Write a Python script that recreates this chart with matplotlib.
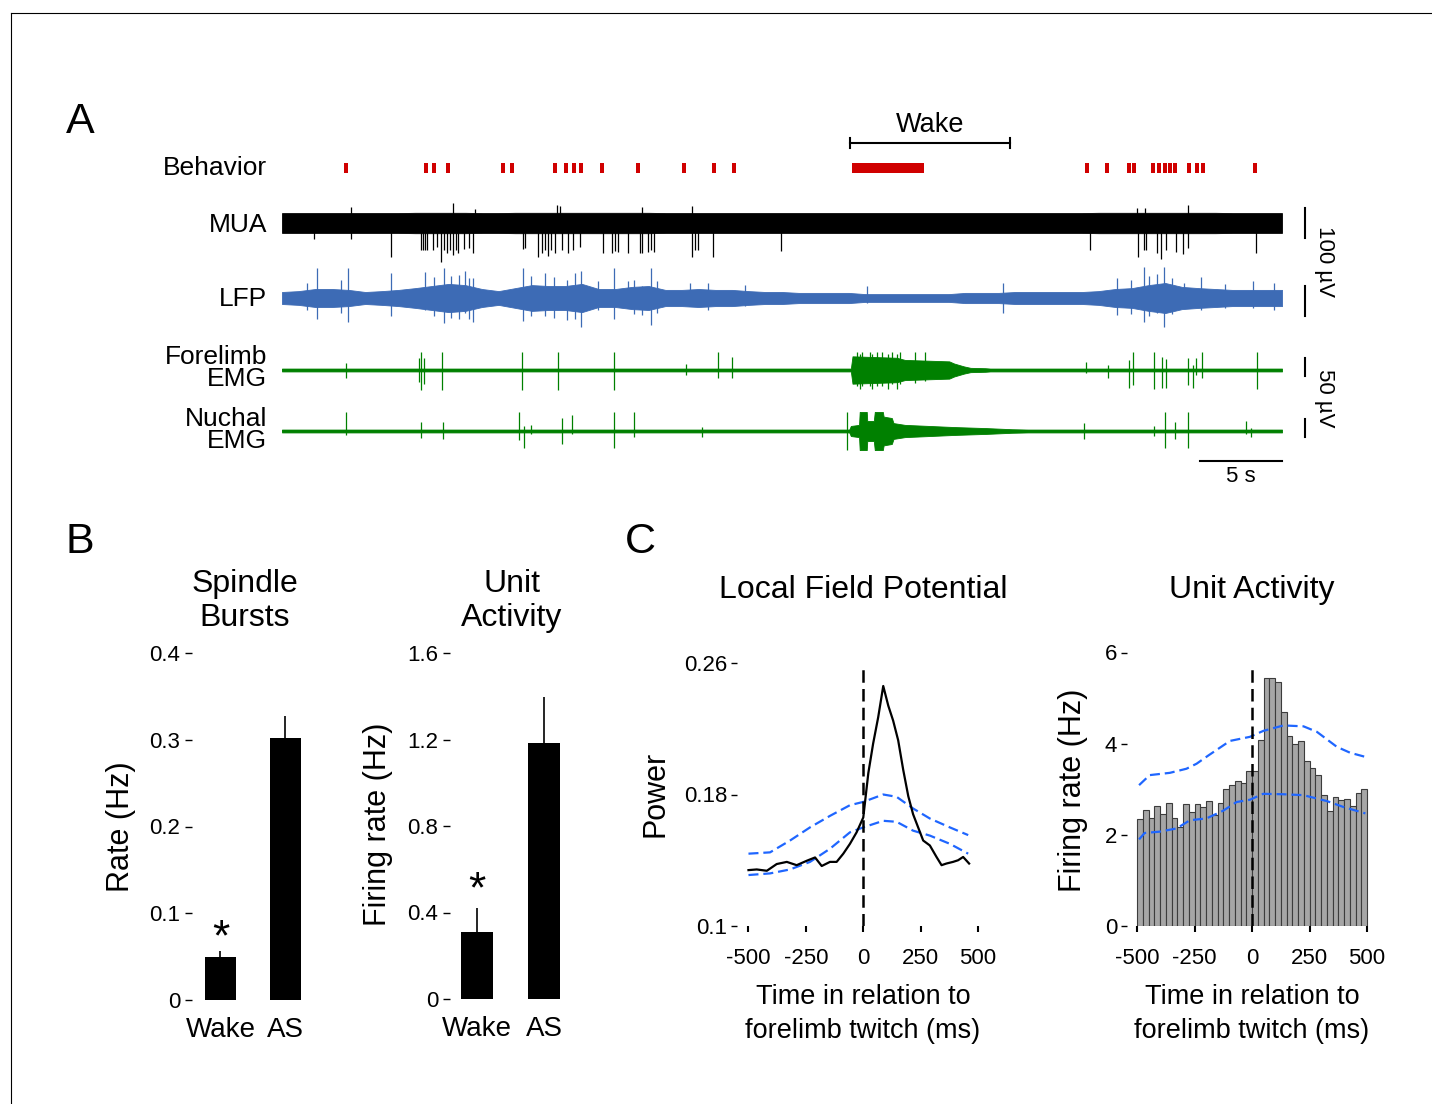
import numpy as np
import matplotlib.pyplot as plt
from matplotlib.lines import Line2D

plt.rcParams['font.family'] = ['Liberation Sans', 'DejaVu Sans']
plt.rcParams['axes.unicode_minus'] = False

## data
#==================================================================
# A: behaviour (s)
twitch_t = [3.90, 8.78, 9.27, 10.12, 13.48, 14.02, 16.65, 17.32, 17.80, 18.23, 19.51,
            21.71, 24.51, 26.34, 27.56, 49.09, 50.30, 51.65, 51.95, 53.11, 53.48,
            53.84, 54.15, 54.45, 55.30, 55.79, 56.16, 59.33]
wake_move = (34.76, 39.15)
wake_state = (34.63, 44.39)
trace_dur = 61.0

# MUA: band half-width per second (uV), spikes (s, uV)
mua_env = [33]*8 + [34]*4 + [33]*2 + [34]*5 + [34]*4 + [33]*26 + [34]*8 + [33]*4
mua_down_t = [1.95, 4.21, 6.65, 8.48, 8.60, 8.72, 8.84, 9.21, 9.45, 9.70, 9.88, 10.06, 10.24,
              10.43, 10.61, 10.73, 11.10, 11.40, 11.65, 14.70, 14.82, 15.61, 15.85, 16.04,
              16.22, 16.40, 16.65, 17.07, 17.44, 17.74, 18.17, 19.57, 20.12, 20.30, 20.49,
              21.10, 21.83, 21.95, 22.32, 22.50, 22.68, 25.00, 25.18, 25.37, 26.28, 30.43,
              49.27, 52.20, 52.56, 52.68, 53.35, 53.60, 53.90, 54.51, 54.94, 55.24, 59.39]
mua_down = [53, 53, 113, 90, 90, 90, 90, 90, 80, 130, 90, 100, 90,
            107, 90, 100, 87, 83, 100, 87, 83, 113, 100, 90,
            110, 90, 100, 90, 100, 90, 80, 100, 100, 93, 97,
            100, 100, 100, 97, 90, 97, 113, 90, 90, 113, 93,
            90, 113, 90, 90, 100, 120, 90, 97, 103, 83, 100]
mua_up_t = [4.21, 10.43, 11.77, 16.77, 16.95, 21.95, 25.00, 52.13, 52.62, 55.24]
mua_up = [53, 67, 47, 60, 57, 53, 57, 50, 50, 60]

# LFP
lfp_env = [20, 23, 30, 30, 27, 20, 23, 27, 33, 40, 47, 43, 30, 23, 33, 43, 40, 40, 47, 30,
           30, 37, 40, 27, 27, 30, 27, 27, 23, 20, 20, 17, 17, 17, 17, 13, 13, 13, 13, 13,
           13, 17, 17, 17, 20, 20, 20, 20, 20, 23, 30, 33, 43, 50, 37, 33, 30, 27, 27, 27, 27]
lfp_spk_t = [1.5, 2.13, 3.6, 4.02, 6.65, 8.72, 9.3, 9.88, 10.3, 10.8, 11.16, 11.4, 11.65,
             14.70, 15.2, 16.04, 16.6, 17.4, 17.9, 18.23, 19.27, 20.24, 21.10, 21.5, 21.95,
             22.50, 22.9, 24.88, 26.0, 28.23, 35.67, 43.96, 50.91, 51.8, 52.56, 52.9, 53.35,
             53.78, 54.3, 55.0, 56.04, 57.5, 59.21, 60.5]
lfp_spk_up = [50, 100, 60, 100, 83, 87, 70, 100, 73, 77, 90, 67, 67,
              100, 73, 83, 70, 60, 83, 90, 57, 100, 57, 60, 40,
              100, 57, 50, 50, 43, 40, 50, 67, 60, 103, 73, 80,
              103, 67, 50, 70, 47, 57, 50]
lfp_spk_dn = [40, 70, 50, 80, 60, 40, 60, 83, 67, 70, 50, 70, 80,
              77, 60, 60, 67, 73, 70, 97, 40, 70, 33, 53, 57,
              90, 50, 27, 40, 27, 17, 50, 57, 53, 80, 60, 50,
              97, 53, 33, 40, 33, 33, 40]

# forelimb EMG: envelope breakpoints (s, uV)
fl_env_t = [0, 34.7, 34.8, 37.5, 38.0, 40.7, 41.0, 41.6, 42.0, 42.9, 43.2, 61]
fl_env = [4, 4, 38, 34, 28, 24, 18, 10, 6, 5, 4, 4]
fl_spk_t = [3.90, 8.35, 8.48, 8.65, 9.76, 14.63, 16.83, 20.24, 24.63, 26.59, 27.44,
            35.06, 35.24, 35.37, 35.85, 35.98, 36.28, 36.59, 36.95, 37.20, 37.50, 37.68,
            38.60, 39.20, 49.02, 50.37, 51.65, 51.89, 53.17, 53.66,
            53.90, 55.24, 55.55, 55.73, 56.10, 59.45]
fl_spk_up = [19, 33, 50, 33, 50, 50, 50, 50, 17, 50, 36,
             50, 45, 50, 50, 45, 50, 50, 45, 50, 45, 50,
             50, 50, 22, 14, 28, 50, 50, 36,
             30, 33, 14, 33, 50, 50]
fl_spk_dn = [22, 33, 56, 40, 56, 56, 56, 56, 14, 22, 22,
             45, 53, 45, 45, 53, 45, 45, 53, 40, 53, 40,
             36, 30, 8, 22, 50, 42, 53, 50,
             50, 42, 50, 14, 22, 53]

# nuchal EMG
nu_env_t = [0, 34.6, 34.7, 35.2, 35.24, 35.67, 35.7, 36.1, 36.16, 36.65, 36.7, 37.2, 37.3,
            38.0, 39.5, 41.0, 43.0, 44.5, 45.5, 61]
nu_env = [4, 4, 14, 17, 53, 53, 28, 28, 53, 53, 40, 36, 22, 17, 14, 11, 8, 5, 4, 4]
nu_spk_t = [3.90, 8.48, 9.82, 14.45, 14.76, 15.18, 17.07, 17.68, 20.24, 21.46, 25.61,
            34.45, 48.90, 53.17, 53.84, 54.45, 55.24, 58.78, 59.09]
nu_spk_up = [53, 25, 25, 53, 14, 17, 36, 44, 53, 53, 11, 53, 22, 14, 53, 25, 53, 28, 8]
nu_spk_dn = [11, 19, 22, 25, 47, 8, 36, 8, 47, 17, 17, 53, 22, 14, 47, 22, 47, 8, 17]

# B
states = ['Wake', 'AS']
spindle_rate = [0.050, 0.302]
spindle_sem = [0.0065, 0.025]
unit_rate = [0.31, 1.184]
unit_sem = [0.11, 0.213]

# C: LFP power
lfp_t = [-500, -464, -420, -377, -333, -290, -246, -210, -181, -145, -116, -87, -58, -29, 0,
         22, 43, 65, 87, 109, 130, 152, 174, 196, 217, 239, 261, 290, 319, 341, 362, 391,
         413, 435, 461]
lfp_power = [.134, .1344, .1336, .1377, .139, .137, .1397, .1417, .1365, .139, .139, .144,
             .150, .157, .166, .193, .211, .227, .246, .234, .225, .213, .195, .179, .168,
             .160, .152, .149, .142, .137, .138, .139, .140, .142, .138]
lfp_ci_t = [-500, -406, -319, -232, -145, -58, 0, 87, 145, 217, 290, 377, 457]
lfp_ci_hi = [.144, .1448, .152, .160, .167, .1735, .1755, .180, .1786, .1715, .1654, .160, .1553]
lfp_ci_lo = [.131, .132, .1344, .139, .147, .157, .160, .164, .1634, .158, .155, .150, .144]

# C: unit activity histogram (25 ms bins)
psth = [2.34, 2.54, 2.38, 2.64, 2.46, 2.69, 2.37, 2.18, 2.67, 2.49, 2.67, 2.62, 2.74, 2.44,
        2.69, 3.01, 3.09, 3.19, 3.14, 3.41, 3.39, 4.07, 5.45, 5.45, 5.35, 4.69, 4.17, 4.00,
        4.06, 3.61, 3.47, 3.31, 2.88, 2.53, 2.82, 2.77, 2.79, 2.64, 2.92, 3.01]
psth_ci_t = [-491, -445, -357, -285, -241, -190, -96, -9, 49, 137, 224, 282, 369, 427, 493]
psth_ci_hi = [3.09, 3.31, 3.36, 3.45, 3.56, 3.74, 4.06, 4.15, 4.28, 4.40, 4.38, 4.26, 3.93, 3.80, 3.71]
psth_ci_t2 = [-491, -467, -401, -328, -270, -198, -125, -67, -9, 49, 137, 224, 326, 398, 493]
psth_ci_lo = [1.90, 2.04, 2.07, 2.14, 2.32, 2.36, 2.53, 2.72, 2.77, 2.90, 2.89, 2.87, 2.74, 2.61, 2.47]

## styling
#==================================================================
RED = '#d00000'
BLUE_LFP = '#3d6bb5'
GREEN = '#008000'
CI_BLUE = '#1f66ff'

W, H = 1432, 1104
fig = plt.figure(figsize=(W/100, H/100), dpi=100)


def box(l, t, r, b):
    return [l/W, 1 - b/H, (r - l)/W, (b - t)/H]


fig.add_artist(Line2D([11/W, 1], [1 - 13/H, 1 - 13/H], color='k', lw=0.8))
fig.add_artist(Line2D([11/W, 11/W], [0, 1 - 13/H], color='k', lw=0.8))

for lab, (px, py) in zip('ABC', [(80, 122), (80, 542), (640, 542)]):
    fig.text(px/W, 1 - py/H, lab, fontsize=31, ha='center', va='center')

## A traces (y in pixels, inverted)
#==================================================================
axA = fig.add_axes(box(282, 100, 1282, 490))
axA.set_xlim(0, trace_dur)
axA.set_ylim(490, 100)
axA.axis('off')

g_ctx = 0.30   # px per uV (MUA/LFP)
g_emg = 0.36   # px per uV (EMG)
beh_y, mua_y, lfp_y, fl_y, nu_y = 168, 223, 298, 370, 431

axA.bar(twitch_t, 10, bottom=beh_y - 5, width=0.25, color=RED, lw=0)
axA.bar((wake_move[0] + wake_move[1])/2, 10, bottom=beh_y - 5,
        width=wake_move[1] - wake_move[0], color=RED, lw=0)
axA.plot(wake_state, [143, 143], color='k', lw=1.5)
for xw in wake_state:
    axA.plot([xw, xw], [138, 148], color='k', lw=1.5)
axA.text(sum(wake_state)/2, 125, 'Wake', fontsize=19.5, ha='center', va='center')


def draw_trace(te, env, center, gain, color, up_t, up, dn_t, dn, base_lw=0):
    e = np.array(env) * gain
    axA.fill_between(te, center - e, center + e, color=color, lw=0.6, edgecolor=color)
    if base_lw:
        axA.plot([0, trace_dur], [center, center], color=color, lw=base_lw)
    axA.vlines(up_t, center, center - np.array(up) * gain, color=color, lw=0.9)
    axA.vlines(dn_t, center, center + np.array(dn) * gain, color=color, lw=0.9)


sec_t = np.linspace(0, trace_dur, len(mua_env))
draw_trace(sec_t, mua_env, mua_y, g_ctx, 'k', mua_up_t, mua_up, mua_down_t, mua_down)
draw_trace(sec_t, lfp_env, lfp_y, g_ctx, BLUE_LFP, lfp_spk_t, lfp_spk_up, lfp_spk_t, lfp_spk_dn)
draw_trace(fl_env_t, fl_env, fl_y, g_emg, GREEN, fl_spk_t, fl_spk_up, fl_spk_t, fl_spk_dn, base_lw=1.2)
draw_trace(nu_env_t, nu_env, nu_y, g_emg, GREEN, nu_spk_t, nu_spk_up, nu_spk_t, nu_spk_dn, base_lw=1.2)

lab_x = -0.9
axA.text(lab_x, beh_y, 'Behavior', fontsize=19, ha='right', va='center')
axA.text(lab_x, mua_y + 2, 'MUA', fontsize=19, ha='right', va='center')
axA.text(lab_x, lfp_y + 1, 'LFP', fontsize=19, ha='right', va='center')
axA.text(lab_x, fl_y - 2, 'Forelimb\nEMG', fontsize=19, ha='right', va='center', linespacing=0.9)
axA.text(lab_x, nu_y - 1, 'Nuchal\nEMG', fontsize=19, ha='right', va='center', linespacing=0.9)

# scale bars
sb_x = 62.4
for c in (222.5, 301):
    axA.plot([sb_x, sb_x], [c - 50*g_ctx, c + 50*g_ctx], color='k', lw=1.5, clip_on=False)
for c in (367, 428):
    axA.plot([sb_x, sb_x], [c - 25*g_emg, c + 25*g_emg], color='k', lw=1.5, clip_on=False)
axA.text(63.6, 262, '100 µV', fontsize=16, rotation=-90, ha='center', va='center')
axA.text(63.6, 398, '50 µV', fontsize=16, rotation=-90, ha='center', va='center')
axA.plot([trace_dur - 5, trace_dur], [461, 461], color='k', lw=1.5, clip_on=False)
axA.text(trace_dur - 2.5, 466, '5 s', fontsize=16, ha='center', va='top')

## B bars
#==================================================================


def bar_panel(rect, vals, sems, ymax, yticks, ylabs, xl, star_y, title, title_x, ylabel, ylabel_xy):
    ax = fig.add_axes(box(*rect))
    ax.bar([0, 1], vals, width=0.477, color='k')
    ax.vlines([0, 1], vals, np.array(vals) + np.array(sems), color='k', lw=1.2)
    ax.set_xlim(*xl)
    ax.set_ylim(0, ymax)
    for s in ax.spines.values():
        s.set_visible(False)
    ax.set_yticks(yticks)
    ax.set_yticklabels(ylabs)
    ax.tick_params(axis='y', length=5, width=1, pad=3.5, labelsize=16)
    ax.set_xticks([0, 1])
    ax.set_xticklabels(states)
    ax.tick_params(axis='x', length=0, pad=12.5, labelsize=20)
    ax.text(0, star_y, '*', fontsize=32, ha='center', va='center')
    fig.text(title_x/W, 1 - 601/H, title, fontsize=23, ha='center', va='center')
    fig.text(ylabel_xy[0]/W, 1 - ylabel_xy[1]/H, ylabel, fontsize=22,
             rotation=90, ha='center', va='center')
    return ax


bar_panel((192, 653, 310, 1000), spindle_rate, spindle_sem, 0.4,
          [0, 0.1, 0.2, 0.3, 0.4], ['0', '0.1', '0.2', '0.3', '0.4'],
          (-0.438, 1.377), 0.071, 'Spindle\nBursts', 245, 'Rate (Hz)', (121, 827))
bar_panel((450, 653, 570, 999), unit_rate, unit_sem, 1.6,
          [0, 0.4, 0.8, 1.2, 1.6], ['0', '0.4', '0.8', '1.2', '1.6'],
          (-0.403, 1.388), 0.50, 'Unit\nActivity', 512, 'Firing rate (Hz)', (378, 824))

## C
#==================================================================
xt = [-500, -250, 0, 250, 500]
xtl = ['-500', '-250', '0', '250', '500']


def style_c(ax):
    for s in ax.spines.values():
        s.set_visible(False)
    ax.set_xticks(xt)
    ax.set_xticklabels(xtl)
    ax.tick_params(axis='x', length=4, width=1.5, pad=12, labelsize=16)
    ax.tick_params(axis='y', length=4, width=1, pad=3, labelsize=16)


axL = fig.add_axes(box(737, 663, 990, 926))
axL.set_xlim(-550, 552)
axL.set_ylim(0.1, 0.26)
axL.plot(lfp_ci_t, lfp_ci_hi, color=CI_BLUE, lw=1.6, dashes=(4.5, 2.2))
axL.plot(lfp_ci_t, lfp_ci_lo, color=CI_BLUE, lw=1.6, dashes=(4.5, 2.2))
axL.plot(lfp_t, lfp_power, color='k', lw=1.6)
axL.plot([0, 0], [0.1, 0.2575], color='k', lw=1.8, dashes=(5, 2.5))
axL.set_yticks([0.1, 0.18, 0.26])
axL.set_yticklabels(['0.1', '0.18', '0.26'])
style_c(axL)
fig.text(863/W, 1 - 590/H, 'Local Field Potential', fontsize=23, ha='center', va='center')
fig.text(655/W, 1 - 794/H, 'Power', fontsize=22, rotation=90, ha='center', va='center')
fig.text(863/W, 1 - 1014/H, 'Time in relation to\nforelimb twitch (ms)', fontsize=19.5,
         ha='center', va='center', linespacing=1.35)

axU = fig.add_axes(box(1127, 652.5, 1380, 926))
axU.set_xlim(-543.5, 556.5)
axU.set_ylim(0, 6)
bin_left = np.arange(-500, 500, 25)
axU.bar(bin_left, psth, width=25, align='edge', color='#a6a6a6', edgecolor='#3c3c3c', lw=0.8)
axU.plot(psth_ci_t, psth_ci_hi, color=CI_BLUE, lw=1.6, dashes=(4.5, 2.2))
axU.plot(psth_ci_t2, psth_ci_lo, color=CI_BLUE, lw=1.6, dashes=(4.5, 2.2))
axU.plot([0, 0], [0, 5.75], color='k', lw=1.8, dashes=(5, 2.5))
axU.set_yticks([0, 2, 4, 6])
axU.set_yticklabels(['0', '2', '4', '6'])
style_c(axU)
fig.text(1252/W, 1 - 590/H, 'Unit Activity', fontsize=23, ha='center', va='center')
fig.text(1073/W, 1 - 790/H, 'Firing rate (Hz)', fontsize=22, rotation=90, ha='center', va='center')
fig.text(1252/W, 1 - 1014/H, 'Time in relation to\nforelimb twitch (ms)', fontsize=19.5,
         ha='center', va='center', linespacing=1.35)

fig.savefig('out.png', dpi=100, facecolor='white')
